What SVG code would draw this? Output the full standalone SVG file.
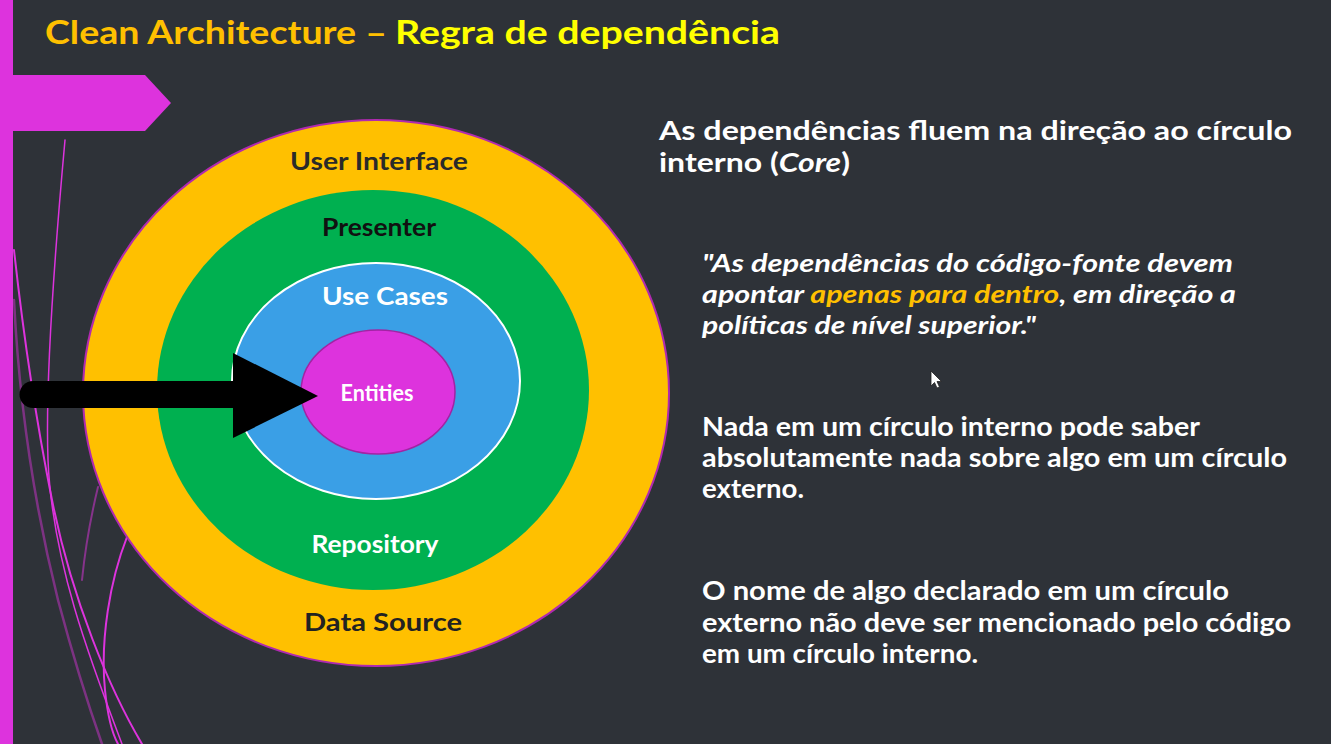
<svg xmlns="http://www.w3.org/2000/svg" width="1331" height="744" viewBox="0 0 1331 744">
<style>
.t{font-family:"Lato","Liberation Sans",sans-serif;font-weight:bold;font-size:33px}
.lbl{font-family:"Lato","Liberation Sans",sans-serif;font-weight:bold;font-size:24px;text-anchor:middle}
.body{font-family:"Lato","Liberation Sans",sans-serif;font-weight:bold;font-size:26px;fill:#ffffff}
.big{font-size:27px}
.q{font-style:italic;font-size:25px}
.deco{fill:none;stroke:#dd33dd;stroke-linecap:round}
</style>
<rect x="0" y="0" width="1331" height="744" fill="#2e3238"/>
<g id="decoration">
<rect x="0" y="0" width="13" height="744" fill="#dd33dd"/>
<polygon points="13,75 145,75 171,103 145,131 13,131" fill="#dd33dd"/>
<path class="deco" stroke-width="1.5" d="M65,140 C55,250 45,380 48,460 C52,560 90,660 122,744"/>
<path class="deco" stroke-width="2" d="M14,250 C25,350 38,430 52,500 C72,600 110,690 142,744"/>
<path class="deco" stroke-width="2.5" opacity="0.45" d="M14,300 C20,420 38,520 58,600 C74,660 90,710 102,744"/>
<path class="deco" stroke-width="2" d="M127,537 C110,580 100,640 105,690 C108,720 113,735 118,744"/>
<path class="deco" stroke-width="2" opacity="0.5" d="M98,487 C90,520 85,550 82,580"/>
</g>
<g id="title">
<text class="t" y="44"><tspan x="45" fill="#ffc000" textLength="342" lengthAdjust="spacingAndGlyphs">Clean Architecture –</tspan><tspan x="395" fill="#ffff00" textLength="385" lengthAdjust="spacingAndGlyphs">Regra de dependência</tspan></text>
</g>
<g id="data-source">
<ellipse cx="376" cy="393" rx="293" ry="273" fill="#ffc000" stroke="#b02ab0" stroke-width="2"/>
<text class="lbl" x="383" y="631" fill="#222222" textLength="158" lengthAdjust="spacingAndGlyphs">Data Source</text>
</g>
<g id="user-interface">
<text class="lbl" x="379" y="170" fill="#2a2a2a" textLength="178" lengthAdjust="spacingAndGlyphs">User Interface</text>
</g>
<g id="repository">
<ellipse cx="373" cy="390" rx="216" ry="200" fill="#00b050"/>
<text class="lbl" x="375" y="553" fill="#ffffff" textLength="127" lengthAdjust="spacingAndGlyphs">Repository</text>
</g>
<g id="presenter">
<text class="lbl" x="379" y="236" fill="#111111" textLength="114" lengthAdjust="spacingAndGlyphs">Presenter</text>
</g>
<g id="use-cases">
<ellipse cx="376" cy="381" rx="144" ry="118" fill="#3a9fe6" stroke="#ffffff" stroke-width="2"/>
<text class="lbl" x="385" y="305" fill="#ffffff" textLength="126" lengthAdjust="spacingAndGlyphs">Use Cases</text>
</g>
<g id="entities">
<ellipse cx="378" cy="392" rx="77" ry="62" fill="#dd33dd" stroke="#a323a3" stroke-width="1.5"/>
<text class="lbl" x="377" y="401" style="font-size:23px" fill="#ffffff" textLength="73" lengthAdjust="spacingAndGlyphs">Entities</text>
</g>
<g id="connectors">
<path d="M33,381 L236,381 L236,408 L33,408 A13.5,13.5 0 0 1 33,381 Z" fill="#000000"/>
<polygon points="233,353 318,396 233,438" fill="#000000"/>
</g>
<g id="text-core">
<text class="body big"><tspan x="659" y="140" textLength="633" lengthAdjust="spacingAndGlyphs">As dependências fluem na direção ao círculo</tspan><tspan x="659" y="172" textLength="191" lengthAdjust="spacingAndGlyphs">interno (<tspan font-style="italic">Core</tspan>)</tspan></text>
</g>
<g id="text-quote">
<text class="body q"><tspan x="702" y="272" textLength="531" lengthAdjust="spacingAndGlyphs">"As dependências do código-fonte devem</tspan><tspan x="702" y="303" textLength="534" lengthAdjust="spacingAndGlyphs">apontar <tspan fill="#ffc000">apenas para dentro</tspan>, em direção a</tspan><tspan x="702" y="334" textLength="334" lengthAdjust="spacingAndGlyphs">políticas de nível superior."</tspan></text>
</g>
<g id="text-nada">
<text class="body"><tspan x="702" y="436" textLength="498" lengthAdjust="spacingAndGlyphs">Nada em um círculo interno pode saber</tspan><tspan x="702" y="467" textLength="585" lengthAdjust="spacingAndGlyphs">absolutamente nada sobre algo em um círculo</tspan><tspan x="702" y="498" textLength="102" lengthAdjust="spacingAndGlyphs">externo.</tspan></text>
</g>
<g id="text-nome">
<text class="body"><tspan x="702" y="600" textLength="527" lengthAdjust="spacingAndGlyphs">O nome de algo declarado em um círculo</tspan><tspan x="702" y="632" textLength="589" lengthAdjust="spacingAndGlyphs">externo não deve ser mencionado pelo código</tspan><tspan x="702" y="663" textLength="276" lengthAdjust="spacingAndGlyphs">em um círculo interno.</tspan></text>
</g>
<g id="cursor">
<path d="M931,371 L931,386 L934.5,382.5 L937,388 L939.5,387 L937,381.5 L941.5,381.5 Z" fill="#ffffff" stroke="#222222" stroke-width="0.8"/>
</g>
</svg>
